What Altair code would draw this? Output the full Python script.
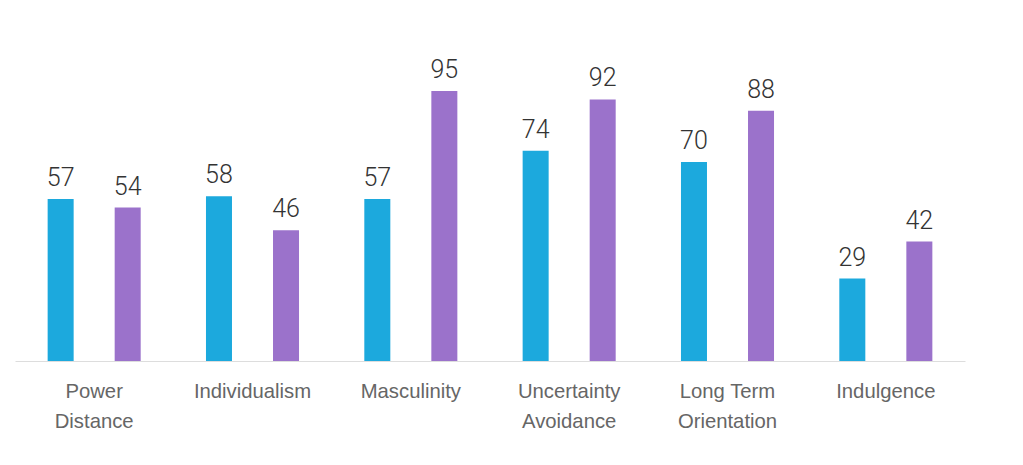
import altair as alt
import pandas as pd

categories = ["Power Distance", "Individualism", "Masculinity",
              "Uncertainty Avoidance", "Long Term Orientation", "Indulgence"]
series_names = ["Country A", "Country B"]
values_a = [57, 58, 57, 74, 70, 29]
values_b = [54, 46, 95, 92, 88, 42]
colors = ["#1CA9DD", "#9B72CB"]

rows = []
for c, a, b in zip(categories, values_a, values_b):
    rows.append({"category": c, "series": series_names[0], "value": a})
    rows.append({"category": c, "series": series_names[1], "value": b})
df = pd.DataFrame(rows)

label_expr = ("datum.label == 'Long Term Orientation' ? ['Long Term', 'Orientation'] : "
              "split(datum.label, ' ')")

x = alt.X("category:N", sort=categories, title=None,
          scale=alt.Scale(paddingInner=0, paddingOuter=0),
          axis=alt.Axis(labelAngle=0, ticks=False, tickSize=0, grid=False,
                        domainColor="#DDDDDD", domainWidth=1,
                        labelFont="Liberation Sans", labelFontSize=20.3,
                        labelColor="#666666", labelPadding=20,
                        labelLineHeight=30, labelExpr=label_expr))
xoff = alt.XOffset("series:N", sort=series_names,
                   scale=alt.Scale(paddingInner=0.612, paddingOuter=0.487))
y = alt.Y("value:Q", title=None, scale=alt.Scale(domain=[0, 127], nice=False),
          axis=None)
color = alt.Color("series:N", sort=series_names,
                  scale=alt.Scale(domain=series_names, range=colors), legend=None)

base = alt.Chart(df)
bars = base.mark_bar().encode(x=x, xOffset=xoff, y=y, color=color)
labels = base.mark_text(dy=-13, baseline="alphabetic", align="center",
                        font="Roboto", fontWeight=300, fontSize=25,
                        color="#333333").encode(
    x=x, xOffset=xoff, y=y, text=alt.Text("value:Q"))

chart = (bars + labels).properties(
    width=950, height=361,
    autosize=alt.AutoSizeParams(type="none"),
    padding={"left": 15, "top": 0, "right": 58, "bottom": 104},
).configure(background="white").configure_view(strokeWidth=0, stroke=None)

chart.save("out.html", embed_options={"renderer": "svg", "actions": False})
